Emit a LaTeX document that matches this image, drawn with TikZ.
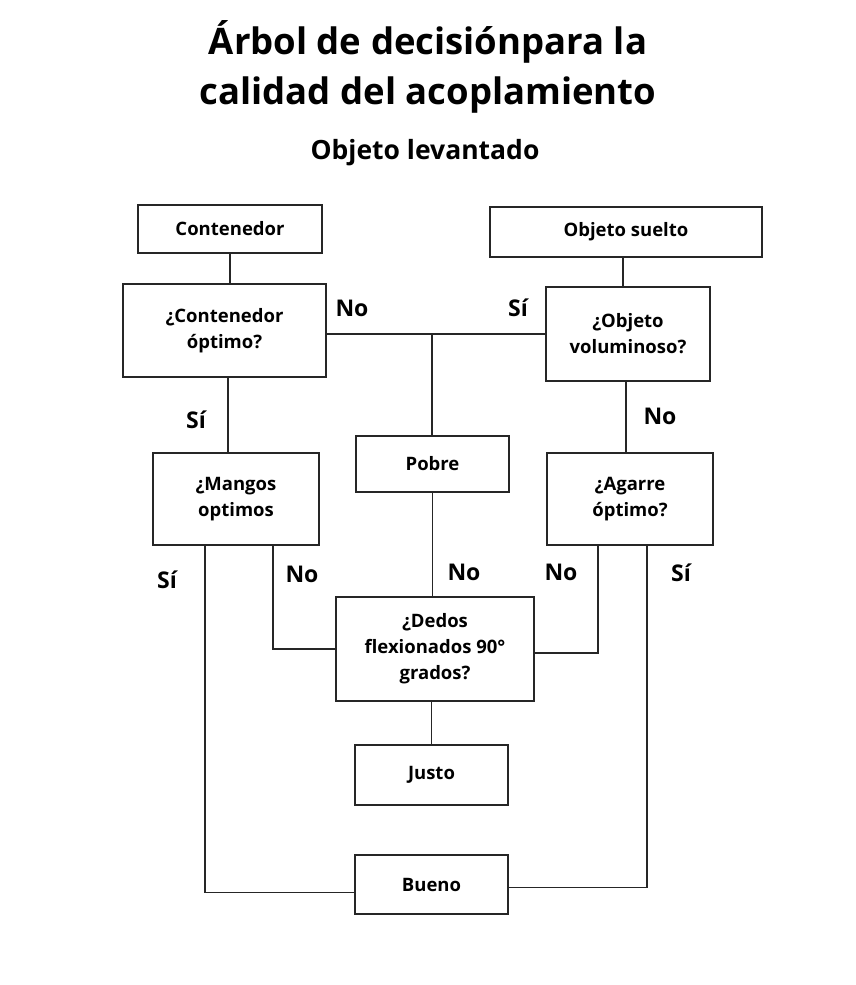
\documentclass[tikz,border=0pt]{standalone}
\usepackage{fontspec}
\setmainfont{Open Sans}
\begin{document}
\begin{tikzpicture}[x=1pt,y=-1pt,
  box/.style={draw=black!85, line width=1.8pt, fill=white, inner sep=2pt, align=center,
    font=\bfseries\fontsize{18.5}{26}\selectfont},
  lbl/.style={font=\bfseries\fontsize{23}{26}\selectfont, inner sep=0pt},
  wire/.style={draw=black!85, line width=1.8pt}]
\useasboundingbox (0,0) rectangle (856,985);
% titles
\node[align=center, font=\bfseries\fontsize{36.5}{50}\selectfont] (title) at (428,67) {Árbol de decisiónpara la\\calidad del acoplamiento};
\node[font=\bfseries\fontsize{26.5}{30}\selectfont] (sub) at (425,153) {Objeto levantado};
% boxes
\node[box, minimum width=184pt, minimum height=48pt] (cont) at (230,229) {Contenedor};
\node[box, minimum width=272pt, minimum height=50pt] (osu) at (626,232) {Objeto suelto};
\node[box, minimum width=203pt, minimum height=93pt] (copt) at (224.5,330.5) {¿Contenedor\\óptimo?};
\node[box, minimum width=164pt, minimum height=94pt] (ovol) at (628,334) {¿Objeto\\voluminoso?};
\node[box, minimum width=166pt, minimum height=92pt] (mang) at (236,499) {¿Mangos\\optimos};
\node[box, minimum width=153pt, minimum height=56pt] (pobre) at (432.5,464) {Pobre};
\node[box, minimum width=166pt, minimum height=92pt] (agar) at (630,499) {¿Agarre\\óptimo?};
\node[box, minimum width=198pt, minimum height=104pt] (dedos) at (435,649) {¿Dedos\\flexionados 90°\\grados?};
\node[box, minimum width=153pt, minimum height=60pt] (justo) at (431.5,775) {Justo};
\node[box, minimum width=153pt, minimum height=59pt] (bueno) at (431.5,884.5) {Bueno};
% helper coordinates
\coordinate (j) at (432,334);
\coordinate (xc) at (228,0);
\coordinate (xa) at (205,0);
\coordinate (xb) at (273,0);
\coordinate (xd) at (598,0);
\coordinate (xe) at (647,0);
% connectors
\draw[wire] (cont.south) -- (cont.south |- copt.north);
\draw[wire] (osu.south -| 623,0) -- (ovol.north -| 623,0);
\draw[wire] (copt.east |- j) -- (ovol.west |- j);
\draw[wire] (j) -- (pobre.north -| j);
\draw[wire] (copt.south -| xc) -- (mang.north -| xc);
\draw[wire] (ovol.south -| 626,0) -- (agar.north -| 626,0);
\draw[wire] (pobre.south) -- (pobre.south |- dedos.north);
\draw[wire] (dedos.south -| justo.north) -- (justo.north);
\draw[wire] (mang.south -| xb) |- (dedos.west);
\draw[wire] (agar.south -| xd) |- ([yshift=-4pt]dedos.east);
\draw[wire] (mang.south -| xa) |- ([yshift=-8pt]bueno.west);
\draw[wire] (agar.south -| xe) |- ([yshift=-3pt]bueno.east);
% labels
\node[lbl] (l1) at (352,308) {No};
\node[lbl] (l2) at (518,308) {Sí};
\node[lbl] (l3) at (196,420) {Sí};
\node[lbl] (l4) at (660,416) {No};
\node[lbl] (l5) at (167,580) {Sí};
\node[lbl] (l6) at (302,574) {No};
\node[lbl] (l7) at (464,572) {No};
\node[lbl] (l8) at (561,572) {No};
\node[lbl] (l9) at (681,573) {Sí};
\end{tikzpicture}
\end{document}
